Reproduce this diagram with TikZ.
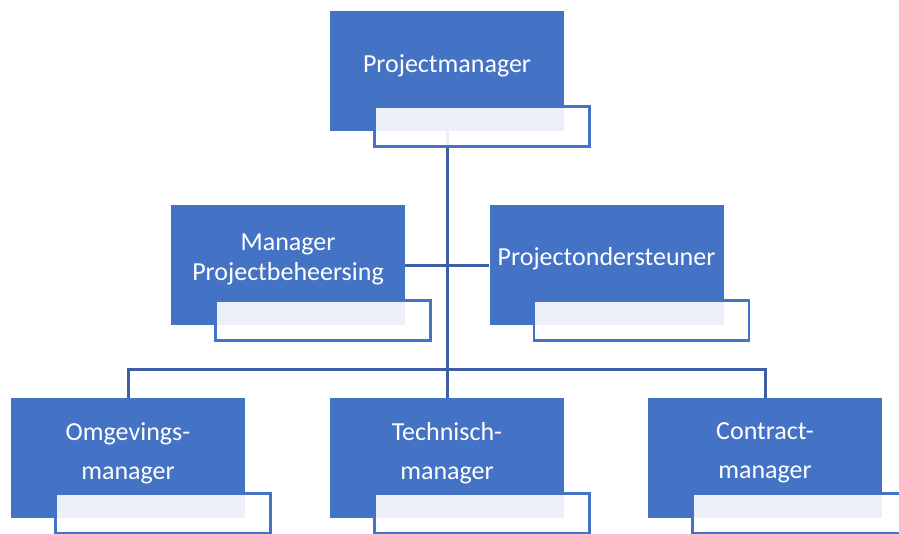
\documentclass[tikz,border=0pt]{standalone}
\usepackage{fontspec}
\setmainfont{Carlito}
\usepackage{xcolor}
\usepackage{tikz}
\usetikzlibrary{calc,shapes,positioning}
\definecolor{boxColor}{RGB}{68, 114, 196}
\definecolor{lineColor}{RGB}{62, 96, 164}
\definecolor{tagColor}{RGB}{68, 114, 196}

\tikzset{
  roleBox/.style={fill=boxColor, draw=none, minimum width=234pt, minimum height=120pt, inner sep=0pt},
  roleText/.style={text=white, align=center, font=\fontsize{26}{30}\selectfont},
  tagBox/.style={fill=white, fill opacity=0.9, draw=tagColor, line width=2.4pt, minimum width=215pt, minimum height=40pt, inner sep=0pt},
  orgLine/.style={draw=lineColor, line width=3pt}
}

\begin{document}
\begin{tikzpicture}[x=1pt, y=-1pt]
            \useasboundingbox (0,0) rectangle (899,533);
            \clip (0,0) rectangle (899,533);

            % Blue role boxes
            \node[roleBox] (pm) at (447,71) {};
            \node[roleBox] (mpb) at (288,265) {};
            \node[roleBox] (pos) at (606.5,265) {};
            \node[roleBox] (om) at (128,458) {};
            \node[roleBox] (tm) at (447,458) {};
            \node[roleBox] (cm) at (765,458) {};

            % Role names
            \node[roleText] (pmText) at ([yshift=5pt]pm.center) {Projectmanager};
            \node[roleText] (mpbText) at ([yshift=6pt]mpb.center) {Manager\\Projectbeheersing};
            \node[roleText] (posText) at ([yshift=6pt]pos.center) {Projectondersteuner};
            \node[roleText] (omText) at ([yshift=5pt]om.center) {Omgevings-\\[9pt]manager};
            \node[roleText] (tmText) at ([yshift=5pt]tm.center) {Technisch-\\[9pt]manager};
            \node[roleText] (cmText) at ([yshift=5pt]cm.center) {Contract-\\[9pt]manager};

            % Connectors
            \coordinate (barMid) at (447,369);
            \draw[orgLine] (pm.south) -- (tm.north);
            \draw[orgLine] (mpb.east) -- (pos.west);
            \draw[orgLine] (om.north) |- (barMid) -| (cm.north);

            % Light tags over the lower right corners
            \node[tagBox] (pmTag) at ([shift={(35,55.5)}]pm.center) {};
            \node[tagBox] (mpbTag) at ([shift={(35,55.5)}]mpb.center) {};
            \node[tagBox] (posTag) at ([shift={(35,55.5)}]pos.center) {};
            \node[tagBox] (omTag) at ([shift={(35,55.5)}]om.center) {};
            \node[tagBox] (tmTag) at ([shift={(35,55.5)}]tm.center) {};
            \node[tagBox] (cmTag) at ([shift={(35,55.5)}]cm.center) {};
        \end{tikzpicture}
\end{document}
